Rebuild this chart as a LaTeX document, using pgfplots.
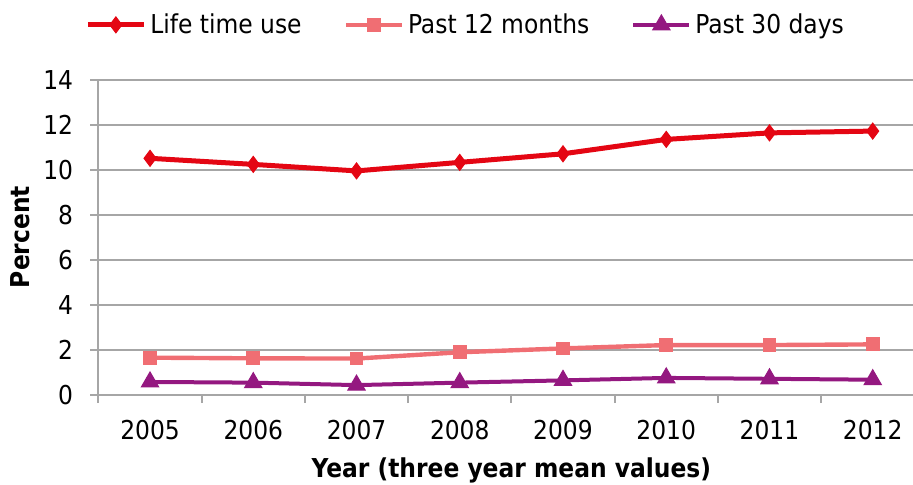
\documentclass[border=0pt]{standalone}
\usepackage{pgfplots}
\pgfplotsset{compat=1.18}
\usepackage{fontspec}
\setmainfont{DejaVu Sans Condensed}
\definecolor{cred}{RGB}{228,6,19}
\definecolor{cpink}{RGB}{240,110,115}
\definecolor{cpurple}{RGB}{148,24,128}
\definecolor{cgrid}{RGB}{166,166,166}
\begin{document}
\begin{tikzpicture}
\begin{axis}[
  at={(0,0)}, anchor=origin,
  scale only axis,
  width=407.3pt, height=157.5pt,
  xmin=2004.5, xmax=2012.39,
  ymin=0, ymax=14,
  ytick={0,2,...,14},
  xtick={2005,2006,2007,2008,2009,2010,2011,2012},
  xticklabels={2005,2006,2007,2008,2009,2010,2011,2012},
  minor xtick={2004.5,2005.5,2006.5,2007.5,2008.5,2009.5,2010.5,2011.5},
  axis x line*=bottom, axis y line*=left,
  axis line style={cgrid, line width=1pt, -},
  ymajorgrids, grid style={cgrid, line width=1pt},
  tick align=outside,
  x tick style={draw=none},
  minor x tick style={draw=cgrid, line width=1pt},
  y tick style={draw=cgrid, line width=1pt},
  minor tick length=4pt,
  major tick length=4pt,
  /pgf/number format/assume math mode=true,
  tick label style={font=\fontsize{13}{15}\selectfont, text=black},
  xticklabel style={anchor=base, yshift=-18pt},
  yticklabel style={anchor=east, inner sep=0pt, xshift=-8.5pt},
  xlabel={\textbf{Year (three year mean values)}},
  xlabel style={at={(axis description cs:0.507,-0.238)}, anchor=center, font=\fontsize{13}{15}\selectfont},
  ylabel={\textbf{Percent}},
  ylabel style={at={(axis description cs:-0.0958,0.5016)}, anchor=center, rotate=0, font=\fontsize{13}{15}\selectfont},
  legend columns=3,
  legend style={draw=none, fill=none, at={(axis description cs:0.452,1.175)}, anchor=center,
    font=\fontsize{13}{15}\selectfont, inner sep=0pt,
    /tikz/every even column/.append style={column sep=19pt}},
  legend cell align=left,
  legend image code/.code={\draw[mark repeat=2,mark phase=2,#1] plot coordinates {(0pt,0pt) (14pt,0pt) (28pt,0pt)};},
  clip=false,
]
\addplot[cred, line width=2.5pt, mark=diamond*, mark size=4pt, mark options={line width=0.5pt, solid}]
  coordinates {(2005,10.52) (2006,10.25) (2007,9.96) (2008,10.34) (2009,10.72) (2010,11.36) (2011,11.65) (2012,11.73)};
\addlegendentry{Life time use}
\addplot[cpink, line width=2.2pt, mark=square*, mark size=3.2pt, mark options={line width=0.5pt, solid}]
  coordinates {(2005,1.66) (2006,1.63) (2007,1.62) (2008,1.90) (2009,2.07) (2010,2.22) (2011,2.22) (2012,2.25)};
\addlegendentry{Past 12 months}
\addplot[cpurple, line width=2pt, mark=triangle*, mark size=5pt, mark options={line width=0.5pt, solid}]
  coordinates {(2005,0.58) (2006,0.55) (2007,0.44) (2008,0.55) (2009,0.65) (2010,0.76) (2011,0.72) (2012,0.68)};
\addlegendentry{Past 30 days}
\end{axis}
\pgfresetboundingbox
\path (-49.2pt,-44.5pt) rectangle (407.3pt,197.5pt);
\end{tikzpicture}
\end{document}
